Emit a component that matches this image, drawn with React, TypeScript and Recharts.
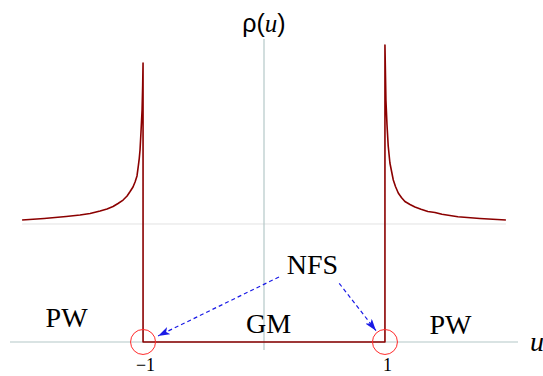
import React from 'react';
import { ComposedChart, Line, XAxis, YAxis, ReferenceLine, ReferenceDot } from 'recharts';

// density curve: left branch, the gap floor, right branch
const leftU = [-2.0, -1.818, -1.636, -1.521, -1.438, -1.355, -1.298, -1.248, -1.207, -1.165, -1.132, -1.107, -1.083, -1.066, -1.05, -1.039, -1.031, -1.025, -1.017, -1.008, -1.003, -1.0];
const leftRho = [1.034, 1.047, 1.064, 1.076, 1.089, 1.11, 1.127, 1.148, 1.174, 1.203, 1.237, 1.275, 1.314, 1.356, 1.407, 1.492, 1.559, 1.627, 1.78, 1.966, 2.178, 2.364];
const gapU = [-1, 1];
const gapRho = [0, 0];
const rightU = [1.0, 1.008, 1.017, 1.027, 1.041, 1.069, 1.087, 1.11, 1.136, 1.165, 1.207, 1.248, 1.298, 1.355, 1.413, 1.471, 1.603, 1.785, 2.0];
const rightRho = [2.517, 2.051, 1.839, 1.661, 1.517, 1.373, 1.318, 1.263, 1.225, 1.191, 1.165, 1.144, 1.125, 1.106, 1.097, 1.082, 1.062, 1.047, 1.034];

const xTicks = [-1, 1];
const edgeU = [-1, 1];

const regionNames = ['PW', 'GM', 'PW', 'NFS'];
const regionU = [-1.632, 0.037, 1.541, 0.401];
const regionRho = [0.208, 0.157, 0.148, 0.657];

const arrowFromU = [0.124, 0.622];
const arrowFromRho = [0.551, 0.497];
const arrowToU = [-0.876, 0.926];
const arrowToRho = [0.051, 0.096];

const data = [
    ...leftU.map((u, i) => ({ u, rho: leftRho[i] })),
    ...gapU.map((u, i) => ({ u, rho: gapRho[i] })),
    ...rightU.map((u, i) => ({ u, rho: rightRho[i] })),
];

const serif = 'Liberation Serif';
const axisColor = '#b4c8c8';

function UTick({ x, y, payload }: any) {
    const v = payload.value;
    return (
        <text x={x + 2.5} y={y + 13} textAnchor='middle' fontFamily={serif} fontSize={18} fill='#000'>
            {v < 0 ? `\u2212${-v}` : `${v}`}
        </text>
    );
}

const RhoTitle = ({ viewBox }: any) => (
    <text x={viewBox.x} y={viewBox.y - 7} textAnchor='middle' fontSize={25} fill='#000'>
        <tspan fontFamily='Liberation Sans'>ρ(</tspan>
        <tspan fontFamily={serif} fontStyle='italic'>u</tspan>
        <tspan fontFamily='Liberation Sans'>)</tspan>
    </text>
);

const UTitle = ({ viewBox }: any) => (
    <text x={viewBox.x + viewBox.width + 12} y={viewBox.y + 9} fontFamily={serif} fontStyle='italic' fontSize={28} fill='#000'>
        u
    </text>
);

export default function App() {
    return (
        <div style={{ position: 'absolute', left: 0, top: 0, background: '#fff' }}>
            <ComposedChart
                width={543}
                height={376}
                data={data}
                margin={{ top: 39, right: 25, bottom: 0, left: 10 }}
            >
                <defs>
                    <marker id='arrowHead' viewBox='0 0 12 8' refX='12' refY='4' markerWidth='12' markerHeight='8'
                        markerUnits='userSpaceOnUse' orient='auto'>
                        <path d='M0,0 L12,4 L0,8 L3,4 Z' fill='#1a1ae6' />
                    </marker>
                </defs>
                <XAxis type='number' dataKey='u' domain={[-2.1, 2.1]} ticks={xTicks} height={26}
                    axisLine={false} tickLine={false} tick={<UTick />} interval={0} />
                <YAxis type='number' domain={[-0.068, 2.568]} hide />

                <ReferenceLine segment={[{ x: -2, y: 1 }, { x: 2, y: 1 }]} stroke='#e2e2e2' strokeWidth={1} />
                <ReferenceLine y={0} stroke={axisColor} strokeWidth={1.2} label={{ content: UTitle }} />
                <ReferenceLine x={0} stroke={axisColor} strokeWidth={1.2} label={{ content: RhoTitle }} />

                <Line type='linear' dataKey='rho' stroke='#8b0000' strokeWidth={1.6} strokeLinejoin='round'
                    dot={false} activeDot={false} isAnimationActive={false} />

                {edgeU.map((u) => (
                    <ReferenceDot key={u} x={u} y={0} r={12.5} fill='none' stroke='#ff2a2a' strokeWidth={1} />
                ))}

                {arrowFromU.map((u, i) => (
                    <ReferenceLine key={'a' + i}
                        segment={[{ x: u, y: arrowFromRho[i] }, { x: arrowToU[i], y: arrowToRho[i] }]}
                        stroke='#1a1ae6' strokeWidth={1.2} strokeDasharray='4 3' markerEnd='url(#arrowHead)' />
                ))}

                {regionNames.map((name, i) => (
                    <ReferenceDot key={'r' + i} x={regionU[i]} y={regionRho[i]} r={0} fill='none' stroke='none'
                        label={{ value: name, position: 'center', fontSize: 28, fontFamily: serif, fill: '#000' }} />
                ))}
            </ComposedChart>
        </div>
    );
}
